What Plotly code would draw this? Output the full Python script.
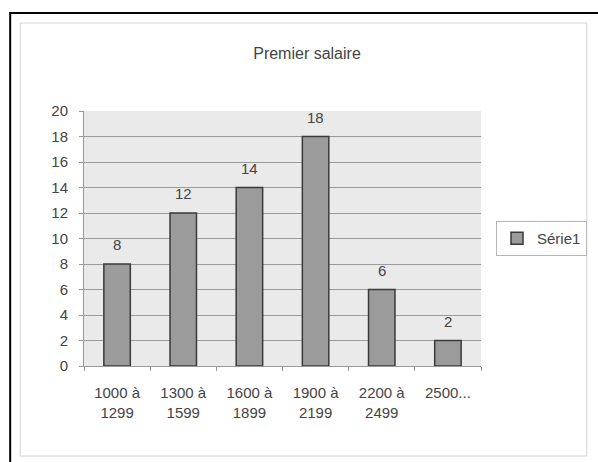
import plotly.graph_objects as go

# Salary bands (categories) and number of people per band
categories = ["1000 à<br>1299", "1300 à<br>1599", "1600 à<br>1899",
              "1900 à<br>2199", "2200 à<br>2499", "2500..."]
counts = [8, 12, 14, 18, 6, 2]
series_name = "Série1"
title_text = "Premier salaire"

FONT = "Liberation Sans, Arial, sans-serif"

fig = go.Figure()
fig.add_trace(go.Bar(
    x=categories, y=counts, name=series_name,
    width=0.4,
    marker=dict(color="#9b9b9b", line=dict(color="#3a3a3a", width=1.5)),
    showlegend=True,
))

# value labels above each bar
for c, v in zip(categories, counts):
    fig.add_annotation(x=c, y=v, text=str(v), showarrow=False,
                       yanchor="bottom", yshift=9,
                       font=dict(family=FONT, size=15, color="#444"))

fig.update_layout(
    width=598, height=462,
    margin=dict(l=84, r=116, t=111, b=96),
    paper_bgcolor="white",
    plot_bgcolor="#eaeaea",
    title=dict(text=title_text, x=307 / 598, xref="container", y=1 - 53 / 462,
               yref="container", xanchor="center", yanchor="middle",
               font=dict(family=FONT, size=16, color="#444")),
    font=dict(family=FONT, size=15, color="#444"),
    legend=dict(x=(496 - 84) / 398, y=(366 - 221) / 255, xanchor="left",
                yanchor="top", bordercolor="#b5b5b5", borderwidth=1,
                bgcolor="white", font=dict(family=FONT, size=15, color="#444"),
                itemwidth=30, tracegroupgap=0),
    showlegend=True,
)

fig.update_xaxes(
    type="category", showgrid=False, showline=True, linecolor="#999",
    linewidth=1, ticks="outside", tickson="boundaries", ticklen=4,
    tickcolor="#999", ticklabelstandoff=13,
    tickfont=dict(family=FONT, size=15, color="#444"),
)
fig.update_yaxes(
    range=[0, 20], dtick=2, showgrid=True, gridcolor="#9a9a9a", gridwidth=1,
    showline=True, linecolor="#999", linewidth=1, ticks="outside",
    ticklen=4, tickcolor="#999", zeroline=False, ticklabelstandoff=8,
    tickfont=dict(family=FONT, size=15, color="#444"),
)

# outer black frame and inner light chart-area border
fig.add_shape(type="rect", xref="paper", yref="paper",
              x0=(10 - 84) / 398, x1=1.6, y0=-0.6, y1=(366 - 13) / 255,
              line=dict(color="black", width=2), layer="below")
fig.add_shape(type="rect", xref="paper", yref="paper",
              x0=(20 - 84) / 398, x1=(588 - 84) / 398,
              y0=(366 - 456) / 255, y1=(366 - 23) / 255,
              line=dict(color="#d2d2d2", width=1), layer="below")

fig.write_html("out.html")
